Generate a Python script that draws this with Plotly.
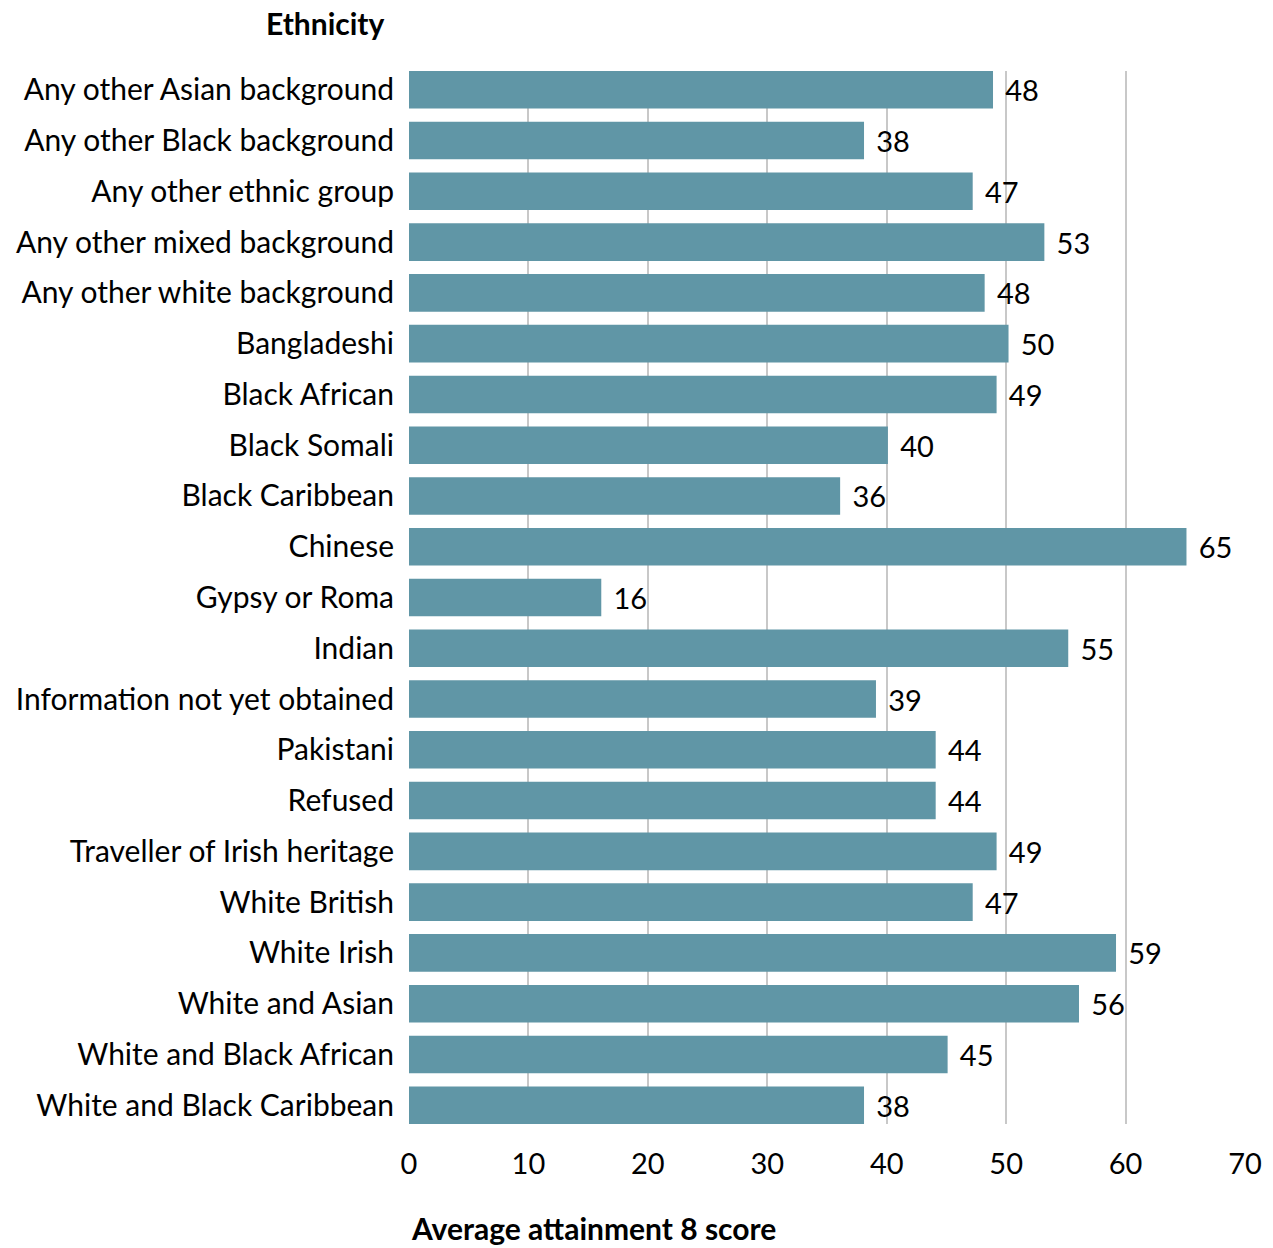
import plotly.graph_objects as go

categories = [
    "Any other Asian background", "Any other Black background", "Any other ethnic group",
    "Any other mixed background", "Any other white background", "Bangladeshi",
    "Black African", "Black Somali", "Black Caribbean", "Chinese", "Gypsy or Roma",
    "Indian", "Information not yet obtained", "Pakistani", "Refused",
    "Traveller of Irish heritage", "White British", "White Irish", "White and Asian",
    "White and Black African", "White and Black Caribbean",
]
values = [48.9, 38.1, 47.2, 53.2, 48.2, 50.2, 49.2, 40.1, 36.1, 65.1, 16.1,
          55.2, 39.1, 44.1, 44.1, 49.2, 47.2, 59.2, 56.1, 45.1, 38.1]
value_labels = ["48", "38", "47", "53", "48", "50", "49", "40", "36", "65", "16",
                "55", "39", "44", "44", "49", "47", "59", "56", "45", "38"]
x_ticks = [0, 10, 20, 30, 40, 50, 60, 70]

FONT = "Lato"
BAR = "#6096A6"

fig = go.Figure(go.Bar(
    x=values, y=categories, orientation="h",
    marker=dict(color=BAR, line=dict(width=0)),
    width=0.74,
    text=value_labels, texttemplate="\u00a0\u200a%{text}",
    textposition="outside", cliponaxis=False,
    textfont=dict(family=FONT, size=29, color="#000000"),
    hoverinfo="skip",
))

fig.update_layout(
    width=1273, height=1248,
    margin=dict(l=409, r=28, t=71, b=124),
    paper_bgcolor="white", plot_bgcolor="white",
    showlegend=False,
    font=dict(family=FONT, size=29, color="#000000"),
    xaxis=dict(
        range=[0, 70], tickvals=x_ticks, ticktext=[str(t) for t in x_ticks],
        showgrid=True, gridcolor="#c8c8c8", gridwidth=1.5,
        zeroline=False, showline=False, ticks="", ticklen=0,
        ticklabelstandoff=20,
        tickfont=dict(family=FONT, size=29, color="#000000"),
    ),
    yaxis=dict(
        autorange=False, range=[len(categories) - 1 + 0.37, -0.37],
        showgrid=False, zeroline=False, showline=False, ticks="",
        ticklabelstandoff=14,
        tickfont=dict(family=FONT, size=30, color="#000000"),
    ),
    annotations=[
        dict(text="<b>Ethnicity</b>", xref="paper", yref="paper",
             x=0, xshift=-22, y=1, yshift=48, xanchor="right", yanchor="middle",
             showarrow=False, font=dict(family=FONT, size=30, color="#000000")),
        dict(text="<b>Average attainment 8 score</b>", xref="paper", yref="paper",
             x=0, xshift=0, y=0, yshift=-104, xanchor="left", yanchor="middle",
             showarrow=False, font=dict(family=FONT, size=30, color="#000000")),
    ],
)

fig.write_html("out.html")
